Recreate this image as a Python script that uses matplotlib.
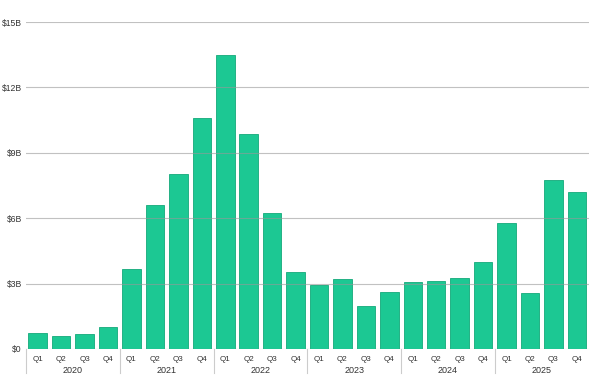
import matplotlib
matplotlib.use("Agg")
import matplotlib.pyplot as plt
import matplotlib.transforms as mtransforms
import numpy as np

years = ["2020", "2021", "2022", "2023", "2024", "2025"]
quarters = ["Q1", "Q2", "Q3", "Q4"]
# values in $ billions, one per quarter
values = [0.73, 0.60, 0.70, 1.01,
          3.67, 6.60, 8.03, 10.60,
          13.50, 9.86, 6.24, 3.52,
          2.94, 3.21, 1.97, 2.63,
          3.09, 3.12, 3.27, 3.98,
          5.78, 2.55, 7.75, 7.20]
yticks = [0, 3, 6, 9, 12, 15]
ytick_labels = ["$0", "$3B", "$6B", "$9B", "$12B", "$15B"]

plt.rcParams['font.family'] = ['Liberation Sans', 'DejaVu Sans']

fig = plt.figure(figsize=(6, 3.86), dpi=100)
ax = fig.add_axes([0.0433, 0.0959, 0.9377, 0.8471])

x = np.arange(len(values))
ax.bar(x, values, width=0.79, color='#1cc893', edgecolor='#14a97a',
       linewidth=0.6, zorder=2)

ax.set_xlim(-0.5, len(values) - 0.5)
ax.set_ylim(0, 15)
ax.set_yticks(yticks)
ax.set_yticklabels(ytick_labels, fontsize=6.2, color='#333333')
for y in yticks:
    ax.axhline(y, color='#999999', lw=0.8, alpha=0.6, zorder=3)

ax.set_xticks(x)
ax.set_xticklabels(quarters * len(years), fontsize=5.8, color='#333333')
ax.tick_params(axis='x', length=0, pad=5)
ax.tick_params(axis='y', length=0, pad=3)
for s in ax.spines.values():
    s.set_visible(False)

trans = mtransforms.blended_transform_factory(ax.transData, ax.transAxes)
for i, yr in enumerate(years):
    ax.text(i * 4 + 1.5, -0.067, yr, transform=trans, ha='center', va='center',
            fontsize=6.5, color='#333333')
for b in range(len(years)):
    ax.plot([b * 4 - 0.5, b * 4 - 0.5], [0, -0.073], transform=trans,
            color='#cccccc', lw=0.8, clip_on=False)

fig.savefig("out.png", dpi=100)
